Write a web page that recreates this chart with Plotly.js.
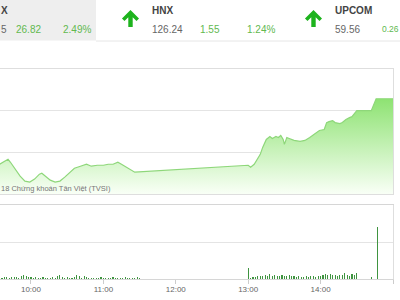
<!DOCTYPE html>
<html><head><meta charset="utf-8">
<script src="https://cdn.plot.ly/plotly-3.0.1.min.js"></script>
<style>html,body{margin:0;padding:0;background:#fff;overflow:hidden}#chart{width:400px;height:300px}</style>
</head><body><div id="chart"></div>
<script>
// ---- data ----
const day = '2018-01-01 ';
const priceTimes = ['09:34','09:38','09:41','09:43','09:47','09:51','09:55','09:59','10:03','10:07','10:09','10:12','10:16','10:20','10:24','10:28','10:32','10:36','10:41','10:46','10:50','10:55','11:00','11:04','11:08','11:12','11:15','11:19','11:23','11:26',
 '13:00','13:02','13:05','13:07','13:10','13:12','13:15','13:18','13:20','13:23','13:25','13:27','13:29','13:30','13:32','13:34','13:38','13:43','13:47','13:51','13:55','13:59','14:03','14:05','14:07','14:10','14:12','14:16','14:18','14:21','14:24','14:26','14:30','14:42','14:46','15:00'];
const priceValues = [1088.14,1088.86,1089.33,1088.62,1086.95,1085.29,1084.10,1083.86,1084.57,1085.76,1086.00,1085.29,1084.33,1083.86,1084.10,1085.05,1086.24,1087.19,1087.67,1088.14,1087.67,1087.90,1087.90,1088.14,1088.14,1088.62,1088.14,1087.43,1086.71,1086.24,
 1087.90,1087.43,1088.14,1089.10,1090.52,1092.19,1094.10,1094.81,1094.33,1094.81,1094.57,1095.05,1094.10,1092.90,1094.57,1094.33,1093.86,1093.62,1093.86,1094.57,1095.52,1096.24,1096.48,1098.14,1098.38,1098.62,1098.14,1097.90,1098.14,1098.86,1099.33,1099.57,1101.00,1101.00,1103.86,1103.86];

// volume (every 2 minutes)
const volMorningStart = '09:34';
const volMorning = [0.05,0.03,0.05,0.05,0.03,0.05,0.05,0.05,0.03, 0.08,0.11,0.08, 0.05,0.05,0.03,0.05,0.03,0.03,0.05,0.03,0.03, 0.03,0.05,0.03, 0.08,0.11,0.05, 0.03,0.05,0.03,0.03,0.05, 0.11,0.08, 0.03, 0.08, 0.05,0.03,0.03,0.03,0.03,0.03,0.05,0.03,0.03,0.03,0.03,0.05,0.03,0.03,0.03,0.03,0.05,0.03,0.03,0.03,0.03,0.05,0.03];
const volAfternoonStart = '13:00';
const volAfternoon = [0.30, 0.03,0.05,0.05,0.08,0.08, 0.08,0.11,0.08,0.14,0.08, 0.11,0.08,0.08,0.11,0.08, 0.08,0.11,0.08,0.08,0.05, 0.08,0.05,0.05,0.08,0.05, 0.08,0.08,0.05,0.08,0.08, 0.11,0.14,0.11,0.14,0.11, 0.11,0.08,0.11,0.11,0.16, 0.11,0.08,0.14,0.11,0.16];
const volCloseTimes = ['14:42','14:47'];
const volClose = [0.05,1.40];

const tickTimes = ['10:00','11:00','12:00','13:00','14:00','15:00'];

// header (only the parts visible in the cropped picture)
const header = [
  {name:'X', value:'5', change:'26.82', pct:'2.49%'},
  {name:'HNX', value:'126.24', change:'1.55', pct:'1.24%'},
  {name:'UPCOM', value:'59.56', change:'0.26', pct:''}
];
const credits = '18 Chứng khoán Tân Việt (TVSI)';

// ---- helpers ----
const W = 400, H = 300, ML = 0, MR = 7;
const PW = W - ML - MR;
const px = x => (x - ML) / PW;
const py = y => 1 - y / H;
function minutesSeq(start, n) {
  const [h, m] = start.split(':').map(Number);
  const out = [];
  for (let i = 0; i < n; i++) {
    const t = h * 60 + m + 2 * i;
    out.push(day + String(Math.floor(t / 60)).padStart(2, '0') + ':' + String(t % 60).padStart(2, '0'));
  }
  return out;
}
const volX = minutesSeq(volMorningStart, volMorning.length)
  .concat(minutesSeq(volAfternoonStart, volAfternoon.length))
  .concat(volCloseTimes.map(t => day + t));
const volY = volMorning.concat(volAfternoon).concat(volClose);

const FONT = '"Liberation Sans Narrow", "Liberation Sans", Arial, sans-serif';
const green = '#62b94f';

const traces = [
  {
    x: priceTimes.map(t => day + t), y: priceValues, type: 'scatter', mode: 'lines',
    xaxis: 'x', yaxis: 'y',
    line: {color: '#8ed77a', width: 1.2},
    fill: 'tozeroy',
    fillgradient: {type: 'vertical', start: 1081, stop: 1104,
      colorscale: [[0, 'rgb(248,255,245)'], [1, 'rgb(140,226,112)']]},
    hoverinfo: 'skip'
  },
  {
    x: volX, y: volY, type: 'bar', xaxis: 'x2', yaxis: 'y2',
    width: 55000,
    marker: {color: '#3f9440', line: {width: 0}},
    hoverinfo: 'skip'
  }
];

const xr = [day + '09:34:20', day + '15:00:00'];
const layout = {
  width: W, height: H,
  margin: {l: ML, r: MR, t: 0, b: 0, pad: 0},
  paper_bgcolor: '#fff', plot_bgcolor: '#fff',
  showlegend: false, bargap: 0,
  font: {family: FONT, size: 8, color: '#666'},
  xaxis: {type: 'date', range: xr, domain: [0, 1], anchor: 'y', showticklabels: false,
    showgrid: false, zeroline: false, showline: true, mirror: true, linecolor: '#dedede', linewidth: 1, ticks: ''},
  yaxis: {range: [1081, 1111], tick0: 1081, dtick: 10, domain: [py(194), py(69)], anchor: 'x',
    showticklabels: false, showgrid: true, gridcolor: '#e4e4e4', zeroline: false,
    showline: true, mirror: true, linecolor: '#dedede', ticks: ''},
  xaxis2: {type: 'date', range: xr, domain: [0, 1], anchor: 'y2', matches: 'x',
    tickvals: tickTimes.map(t => day + t), ticktext: tickTimes,
    ticks: 'outside', ticklen: 4, tickcolor: '#cccccc', tickwidth: 1, ticklabelstandoff: -2,
    tickfont: {family: FONT, size: 8, color: '#666'},
    showgrid: false, zeroline: false, showline: true, mirror: true, linecolor: '#d6d6d6'},
  yaxis2: {range: [0, 2], dtick: 1, domain: [py(279), py(205)], anchor: 'x2',
    showticklabels: false, showgrid: true, gridcolor: '#e4e4e4', zeroline: false,
    showline: true, mirror: true, linecolor: '#dedede', ticks: ''},
  shapes: [],
  annotations: []
};

// header background + border
layout.shapes.push({type: 'rect', xref: 'paper', yref: 'paper', x0: px(-2), x1: px(96), y0: py(40.5), y1: py(-2),
  fillcolor: '#eeeeee', line: {width: 0}, layer: 'below'});
layout.shapes.push({type: 'line', xref: 'paper', yref: 'paper', x0: px(96), x1: px(402), y0: py(41), y1: py(41),
  line: {color: '#e6e6e6', width: 1}});

function arrowPath(cx, top) {
  const pts = [[cx, top], [cx + 8.5, top + 8.5], [cx + 6, top + 11], [cx + 2.2, top + 7.2], [cx + 2.2, top + 17],
    [cx - 2.2, top + 17], [cx - 2.2, top + 7.2], [cx - 6, top + 11], [cx - 8.5, top + 8.5]];
  return 'M' + pts.map(p => px(p[0]).toFixed(5) + ',' + py(p[1]).toFixed(5)).join(' L') + ' Z';
}
[130.5, 313.5].forEach(cx => layout.shapes.push({type: 'path', xref: 'paper', yref: 'paper',
  path: arrowPath(cx, 10), fillcolor: '#1db31d', line: {width: 0}}));

function txt(text, x, y, opts) {
  layout.annotations.push(Object.assign({text: text, xref: 'paper', yref: 'paper', x: px(x), y: py(y),
    xanchor: 'left', yanchor: 'middle', showarrow: false, borderpad: 0, borderwidth: 0,
    font: {family: FONT, size: 10, color: '#666'}}, opts || {}));
}
// VN-INDEX column (cut off in the reference; keep visible part)
txt('<b>' + header[0].name + '</b>', 0.5, 11, {font: {family: FONT, size: 10, color: '#444'}});
txt(header[0].value, 0.5, 29);
txt(header[0].change, 16, 29, {font: {family: FONT, size: 10, color: green}});
txt(header[0].pct, 63, 29, {font: {family: FONT, size: 10, color: green}});
// HNX
txt('<b>' + header[1].name + '</b>', 152, 11, {font: {family: FONT, size: 10, color: '#444'}});
txt(header[1].value, 152, 29);
txt(header[1].change, 200, 29, {font: {family: FONT, size: 10, color: green}});
txt(header[1].pct, 247, 29, {font: {family: FONT, size: 10, color: green}});
// UPCOM
txt('<b>' + header[2].name + '</b>', 335, 11, {font: {family: FONT, size: 10, color: '#444'}});
txt(header[2].value, 335, 29);
txt(header[2].change, 398.5, 29, {xanchor: 'right', font: {family: FONT, size: 8.5, color: green}});
// credits
txt(credits, 0.5, 188, {font: {family: FONT, size: 7.5, color: '#777'}});

Plotly.newPlot('chart', traces, layout, {staticPlot: true, displayModeBar: false});
</script></body></html>
